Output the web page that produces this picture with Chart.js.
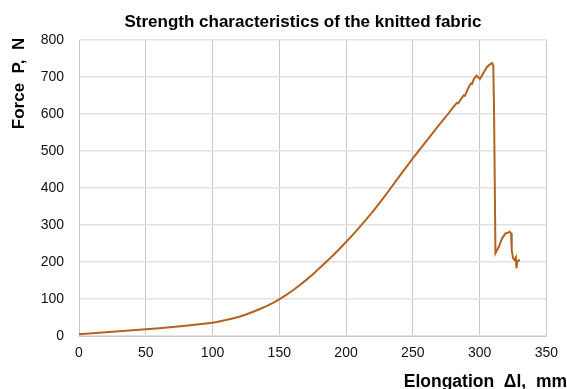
<!DOCTYPE html>
<html>
<head>
<meta charset="utf-8">
<script src="https://cdn.jsdelivr.net/npm/chart.js@4/dist/chart.umd.min.js"></script>
<style>
  html, body { margin: 0; padding: 0; background: #ffffff; }
  #wrap { width: 567px; height: 389px; }
</style>
</head>
<body>
<div id="wrap"><canvas id="chart" width="567" height="389"></canvas></div>
<script>
// Tensile test of a knitted fabric sample: elongation (mm) vs. force (N)
const elongation = [
  0, 10, 20, 30, 40, 50, 60, 70, 80, 90,
  100, 105, 110, 115, 120, 125, 130, 135, 140, 145,
  150, 155, 160, 165, 170, 175, 180, 185, 190, 195,
  200, 205, 210, 215, 220, 225, 230, 240, 250, 260,
  270, 276, 280, 283, 284, 286, 288, 289, 291, 293.3,
  294.3, 295.8, 297.8, 298.8, 300.3, 303.2, 305.6, 307.7, 309.5, 310.3,
  310.9, 311.9, 314.4, 316.9, 319.4, 321.1, 322.6, 323.6, 324.1, 325.1,
  326.1, 327.2, 327.6, 328.3, 329.3, 330
];
const force = [
  5, 7.6, 10.2, 12.8, 15.4, 18.1, 21, 24.2, 27.7, 31.6,
  36, 39.3, 43, 47.3, 52, 58, 65, 72.3, 80, 89,
  99, 110.5, 123, 136.5, 151, 166.5, 183, 200, 217, 235,
  254, 273.5, 293.5, 314.5, 336, 359, 382.5, 432, 480, 526,
  572, 598, 617, 630, 629, 640, 650, 649, 666, 682,
  681, 695, 704, 700, 695, 713, 727, 734, 737.5, 731,
  592, 223.5, 241, 264, 277.5, 279, 282, 277.5, 232, 210,
  205.5, 213, 183, 201, 203.6, 207
];
const xTicks = [0, 50, 100, 150, 200, 250, 300, 350];
const yTicks = [0, 100, 200, 300, 400, 500, 600, 700, 800];

const chartTitle = 'Strength characteristics of the knitted fabric';
const xTitle = 'Elongation  \u0394l,  mm';
const yTitle = 'Force  P,  N';

const points = elongation.map((x, i) => ({ x: x, y: force[i] }));

// Captions placed around the plot area
const captions = {
  id: 'captions',
  afterDraw(chart) {
    const ctx = chart.ctx;
    ctx.save();
    ctx.fillStyle = '#000000';
    ctx.font = 'bold 17px "Liberation Sans", Arial, sans-serif';
    ctx.textAlign = 'center';
    ctx.textBaseline = 'alphabetic';
    ctx.fillText(chartTitle, 303, 27);

    ctx.textAlign = 'right';
    ctx.font = 'bold 17.5px "Liberation Sans", Arial, sans-serif';
    ctx.fillText(xTitle, 567, 387);

    ctx.font = 'bold 17px "Liberation Sans", Arial, sans-serif';
    ctx.translate(24, 83.5);
    ctx.rotate(-Math.PI / 2);
    ctx.textAlign = 'center';
    ctx.fillText(yTitle, 0, 0);
    ctx.restore();
  }
};

new Chart(document.getElementById('chart'), {
  type: 'line',
  data: {
    datasets: [{
      data: points,
      borderColor: '#b5621f',
      borderWidth: 2,
      pointRadius: 0,
      tension: 0,
      fill: false
    }]
  },
  options: {
    responsive: false,
    animation: false,
    devicePixelRatio: 1,
    layout: { padding: { top: 40, right: 18, left: 0, bottom: 0 } },
    plugins: {
      legend: { display: false },
      title: { display: false },
      tooltip: { enabled: false }
    },
    scales: {
      x: {
        type: 'linear',
        min: xTicks[0],
        max: xTicks[xTicks.length - 1],
        afterBuildTicks(scale) { scale.ticks = xTicks.map(v => ({ value: v })); },
        afterFit(scale) { scale.height = 53; },
        grid: { color: '#c9c9c9', lineWidth: 1, drawTicks: false },
        border: { color: '#c9c9c9', width: 1 },
        ticks: {
          padding: 9,
          color: '#111111',
          font: { family: '"Liberation Sans", Arial, sans-serif', size: 14 },
          maxRotation: 0
        }
      },
      y: {
        type: 'linear',
        min: yTicks[0],
        max: yTicks[yTicks.length - 1],
        afterBuildTicks(scale) { scale.ticks = yTicks.map(v => ({ value: v })); },
        afterFit(scale) { scale.width = 79; },
        grid: { color: '#e2e2e2', lineWidth: 1.5, drawTicks: false },
        border: { color: '#c9c9c9', width: 1 },
        ticks: {
          padding: 15,
          color: '#111111',
          font: { family: '"Liberation Sans", Arial, sans-serif', size: 14 }
        }
      }
    }
  },
  plugins: [captions]
});
</script>
</body>
</html>
